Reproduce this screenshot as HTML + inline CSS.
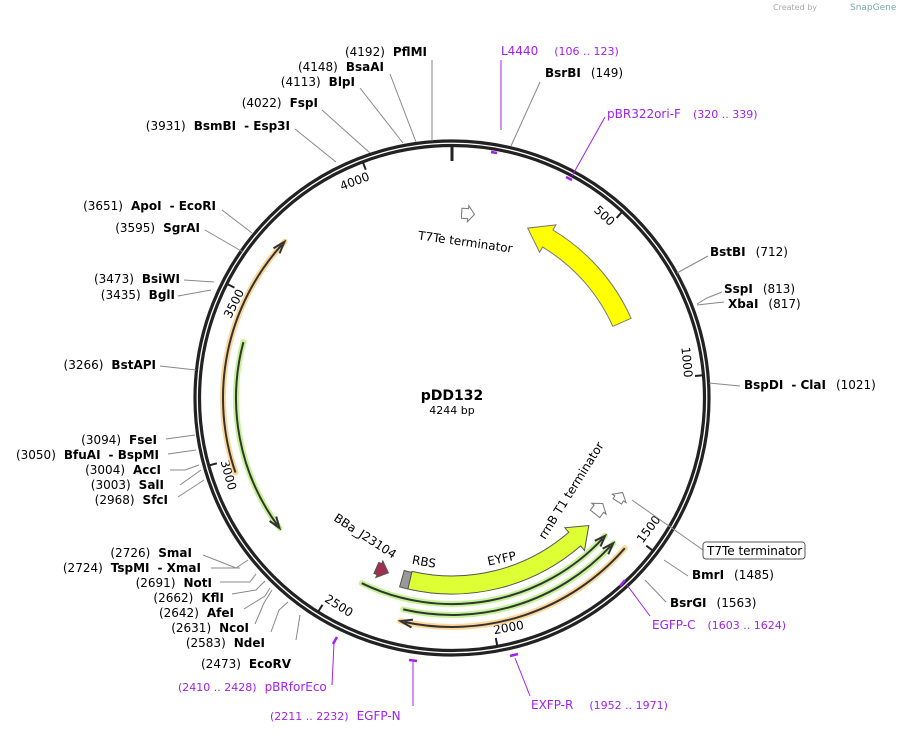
<!DOCTYPE html>
<html><head><meta charset="utf-8"><style>
body{margin:0;background:#fff}
svg{display:block;font-family:"DejaVu Sans","Liberation Sans",sans-serif}
.b{font-weight:bold}
.t{font-size:12px;fill:#000}
.p{font-size:12px;fill:#a020f0}
.l{stroke:#888;stroke-width:1;fill:none}
.pl{stroke:#a020f0;stroke-width:1;fill:none}
</style></head><body>
<svg id="s" width="898" height="735" viewBox="0 0 898 735" xmlns="http://www.w3.org/2000/svg">
<text x="773" y="10" font-size="8" fill="#aaa">Created by</text><text x="850" y="10" font-size="9" fill="#7aa">SnapGene</text>
<g id="g"></g>
<circle cx="452" cy="398" r="257" fill="none" stroke="#222" stroke-width="3.2"/>
<circle cx="452" cy="398" r="252.5" fill="none" stroke="#222" stroke-width="3.2"/>
<line x1="452" y1="146" x2="452" y2="161" stroke="#222" stroke-width="3"/>
<text x="452" y="400" text-anchor="middle" font-size="14" class="b">pDD132</text>
<text x="452" y="414" text-anchor="middle" font-size="11">4244 bp</text>
<g class="l">
<path d="M432,141 L432,60"/><path d="M416,142 L390,74"/><path d="M403,143 L360,88"/><path d="M370,153 L322,110"/><path d="M336,162 L295,129"/>
<path d="M252,233 L222,210"/><path d="M243,252 L205,230"/><path d="M214,282 L184,280"/><path d="M211,290 L178,296"/><path d="M196,370 L160,366"/>
<path d="M195,435 L166,439"/><path d="M196,450 L168,454"/><path d="M199,465 L185,470 L170,470"/><path d="M201,470 L180,485"/><path d="M204,480 L178,497"/>
<path d="M248,560 L236,568 L203,555"/><path d="M240,568 L211,568"/><path d="M256,574 L250,582 L220,582"/><path d="M265,581 L256,590 L232,594"/><path d="M270,588 L265,596 L244,609"/><path d="M272,590 L264,603 L255,624"/><path d="M288,602 L279,610 L271,632"/><path d="M300,615 L296,640"/>
<path d="M511,146 L540,82"/><path d="M677,273 L708,256"/><path d="M697,304 L707,298 L722,292"/><path d="M697,305 L724,302"/><path d="M709,383 L740,386"/>
<path d="M632,500 L703,550"/><path d="M664,560 L688,576"/><path d="M645,580 L666,602"/>
</g>
<g class="pl">
<path d="M501,130 L501,60"/><line x1="491" y1="152" x2="497" y2="153" stroke-width="2.5"/>
<path d="M572,176 L605,117"/><line x1="566" y1="177" x2="572" y2="180" stroke-width="2.5"/>
<path d="M627,585 L650,616"/><line x1="620" y1="586" x2="625" y2="580" stroke-width="2.5"/>
<path d="M515,658 L530,696"/><line x1="510" y1="656" x2="518" y2="654" stroke-width="2.5"/>
<path d="M413,662 L413,706"/><line x1="409" y1="660" x2="417" y2="661" stroke-width="2.5"/>
<path d="M334,643 L332,685"/><line x1="333" y1="644" x2="337" y2="637" stroke-width="2.5"/>
</g>
<g class="t" text-anchor="end">
<text x="427" y="56">(4192)<tspan class="b" dx="8">PflMI</tspan></text>
<text x="384" y="71">(4148)<tspan class="b" dx="8">BsaAI</tspan></text>
<text x="355" y="86">(4113)<tspan class="b" dx="8">BlpI</tspan></text>
<text x="318" y="107">(4022)<tspan class="b" dx="8">FspI</tspan></text>
<text x="290" y="130">(3931)<tspan class="b" dx="8">BsmBI</tspan><tspan class="b" dx="8">- Esp3I</tspan></text>
<text x="216" y="210">(3651)<tspan class="b" dx="8">ApoI</tspan><tspan class="b" dx="8">- EcoRI</tspan></text>
<text x="200" y="232">(3595)<tspan class="b" dx="8">SgrAI</tspan></text>
<text x="180" y="283">(3473)<tspan class="b" dx="8">BsiWI</tspan></text>
<text x="175" y="299">(3435)<tspan class="b" dx="8">BglI</tspan></text>
<text x="156" y="369">(3266)<tspan class="b" dx="8">BstAPI</tspan></text>
<text x="157" y="444">(3094)<tspan class="b" dx="8">FseI</tspan></text>
<text x="159" y="459">(3050)<tspan class="b" dx="8">BfuAI</tspan><tspan class="b" dx="8">- BspMI</tspan></text>
<text x="161" y="474">(3004)<tspan class="b" dx="8">AccI</tspan></text>
<text x="164" y="489">(3003)<tspan class="b" dx="8">SalI</tspan></text>
<text x="168" y="504">(2968)<tspan class="b" dx="8">SfcI</tspan></text>
<text x="192" y="557">(2726)<tspan class="b" dx="8">SmaI</tspan></text>
<text x="201" y="572">(2724)<tspan class="b" dx="8">TspMI</tspan><tspan class="b" dx="8">- XmaI</tspan></text>
<text x="212" y="587">(2691)<tspan class="b" dx="8">NotI</tspan></text>
<text x="224" y="602">(2662)<tspan class="b" dx="8">KflI</tspan></text>
<text x="234" y="617">(2642)<tspan class="b" dx="8">AfeI</tspan></text>
<text x="249" y="632">(2631)<tspan class="b" dx="8">NcoI</tspan></text>
<text x="265" y="647">(2583)<tspan class="b" dx="8">NdeI</tspan></text>
<text x="291" y="668">(2473)<tspan class="b" dx="8">EcoRV</tspan></text>
</g>
<g class="t">
<text x="545" y="77"><tspan class="b">BsrBI</tspan><tspan dx="10">(149)</tspan></text>
<text x="710" y="256"><tspan class="b">BstBI</tspan><tspan dx="10">(712)</tspan></text>
<text x="724" y="293"><tspan class="b">SspI</tspan><tspan dx="10">(813)</tspan></text>
<text x="728" y="308"><tspan class="b">XbaI</tspan><tspan dx="10">(817)</tspan></text>
<text x="744" y="389"><tspan class="b">BspDI</tspan><tspan class="b" dx="8">- ClaI</tspan><tspan dx="10">(1021)</tspan></text>
<text x="692" y="579"><tspan class="b">BmrI</tspan><tspan dx="10">(1485)</tspan></text>
<text x="670" y="607"><tspan class="b">BsrGI</tspan><tspan dx="10">(1563)</tspan></text>
</g>
<rect x="703" y="542" width="102" height="17" rx="3" fill="#fff" stroke="#555"/>
<text x="707" y="555" class="t">T7Te terminator</text>
<g class="p">
<text x="501" y="55">L4440<tspan dx="16" font-size="11">(106 .. 123)</tspan></text>
<text x="607" y="118">pBR322ori-F<tspan dx="12" font-size="11">(320 .. 339)</tspan></text>
<text x="652" y="629">EGFP-C<tspan dx="12" font-size="11">(1603 .. 1624)</tspan></text>
<text x="531" y="709">EXFP-R<tspan dx="16" font-size="11">(1952 .. 1971)</tspan></text>
<text x="178" y="691"><tspan font-size="11">(2410 .. 2428)</tspan><tspan dx="8">pBRforEco</tspan></text>
<text x="270" y="720"><tspan font-size="11">(2211 .. 2232)</tspan><tspan dx="8">EGFP-N</tspan></text>
</g>
<text x="418" y="246" font-size="12" transform="rotate(8 465 240)">T7Te terminator</text>
<text x="487" y="563" font-size="12" transform="rotate(-12 500 558)">EYFP</text>
<text x="412" y="566" font-size="12" transform="rotate(10 425 562)">RBS</text>
<text x="333" y="520" font-size="12" transform="rotate(33 333 520)">BBa_J23104</text>
<text x="545" y="540" font-size="12" transform="rotate(-58 545 540)">rrnB T1 terminator</text>
</svg>
<script>
const cx=452,cy=398,N=4244,g=document.getElementById('g');
function P(r,a){a=a*Math.PI/180;return[(cx+r*Math.sin(a)).toFixed(1),(cy-r*Math.cos(a)).toFixed(1)];}
function add(h){g.insertAdjacentHTML('beforeend',h);}
function arc(r,a1,a2){const p=P(r,a1),q=P(r,a2),l=Math.abs(a2-a1)>180?1:0,s=a2>a1?1:0;return `M${p} A${r},${r} 0 ${l} ${s} ${q}`;}
function feat(r1,r2,a,b,hl,fl,fill,stroke){const d=b>a?1:-1,hb=b-d*hl,m=(r1+r2)/2;
 const p=`M${P(r1,a)} ${arc(r1,a,hb).replace('M','L')} L${P(r1-fl,hb)} L${P(m,b)} L${P(r2+fl,hb)} L${P(r2,hb)} ${arc(r2,hb,a).replace('M','L')} Z`;
 add(`<path d="${p}" fill="${fill}" stroke="${stroke}" stroke-width="1"/>`);}
function thin(r,a,b,glow){const d=b>a?1:-1;
 add(`<path d="${arc(r,a,b)}" fill="none" stroke="${glow}" stroke-width="6" stroke-linecap="round" opacity=".8"/>`);
 add(`<path d="${arc(r,a,b-d*1)}" fill="none" stroke="#333" stroke-width="2"/>`);
 const t=P(r,b),u=P(r-4,b-d*3),v=P(r+4,b-d*3);
 add(`<path d="M${u} L${t} L${v}" fill="none" stroke="#333" stroke-width="2"/>`);}
for(let k=500;k<N;k+=500){const a=k/N*360,p=P(252,a),q=P(244,a);
 add(`<line x1="${p[0]}" y1="${p[1]}" x2="${q[0]}" y2="${q[1]}" stroke="#222" stroke-width="2"/>`);
 const t=P(237,a-(k>=1000?3.5:2.5));let rot=(a>90&&a<270)?a-180:a;
 add(`<text x="${t[0]}" y="${t[1]}" font-size="12" text-anchor="middle" dominant-baseline="middle" transform="rotate(${rot.toFixed(1)} ${t[0]} ${t[1]})">${k}</text>`);}
feat(176,196,66,24,7,6,'#ffff00','#777');
feat(178,196,193,133,6,6,'#ddff33','#555');
add(`<path d="${arc(179,193,195.5)} ${arc(196,195.5,193).replace('M','L')} Z" fill="#999" stroke="#555"/>`);
feat(180,192,204,200,3,3,'#a0304f','#555');
feat(180,190,3,7,2,3,'#fff','#777');
feat(178,190,129,125,2,3,'#fff','#777');
feat(190,200,122,119,2,3,'#fff','#777');
thin(206,206,132,'#b5f07a');
thin(217,193,132,'#b5f07a');
thin(229,131,193,'#ffcc80');
thin(229,251,313,'#ffcc80');
thin(216,285,233,'#b5f07a');
</script>
</body></html>
